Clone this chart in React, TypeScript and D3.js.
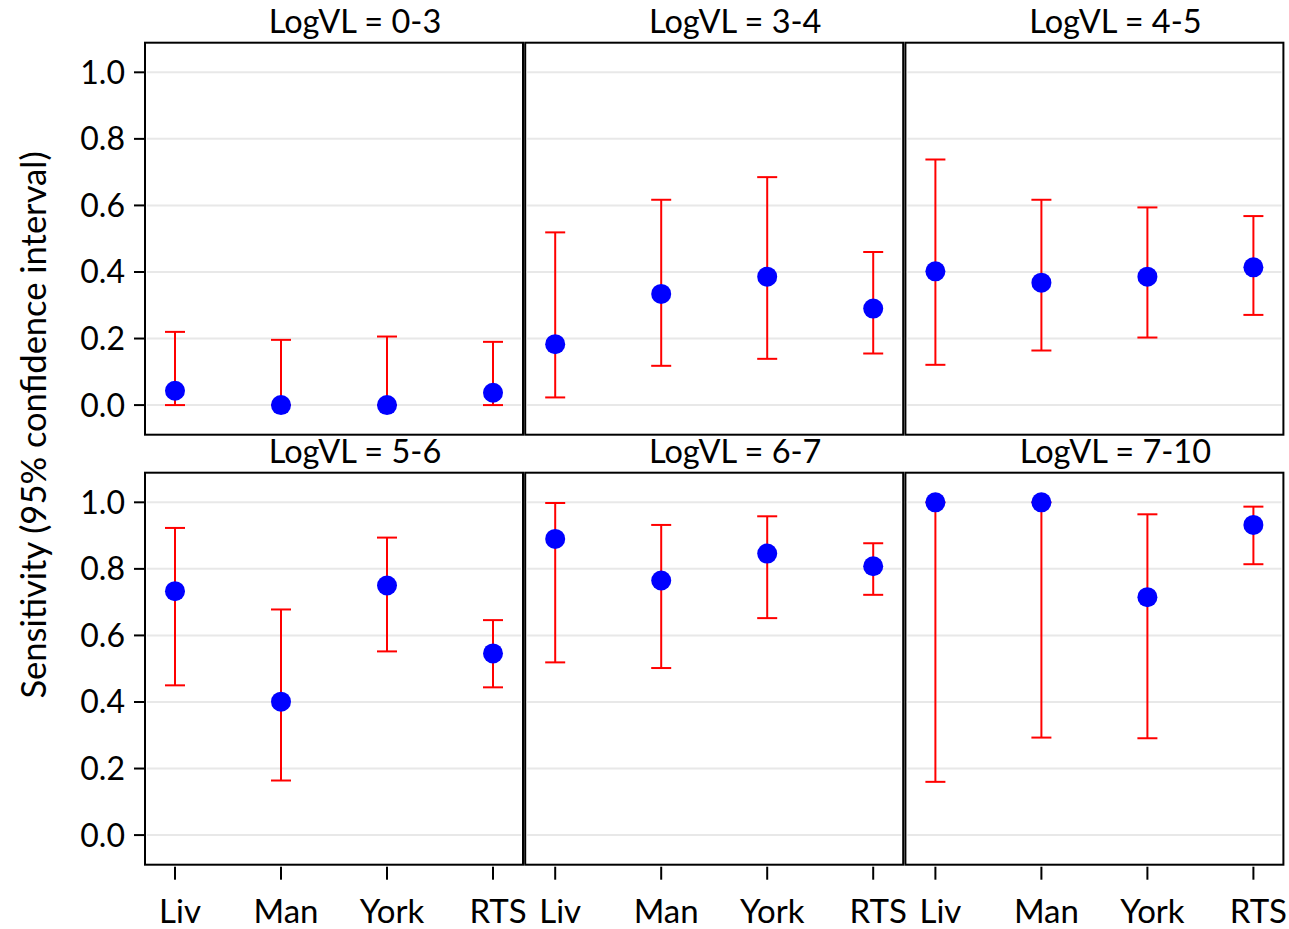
import React from "react";
import * as d3 from "d3";

const sites = ["Liv", "Man", "York", "RTS"];
const groups = ["LogVL = 0-3", "LogVL = 3-4", "LogVL = 4-5", "LogVL = 5-6", "LogVL = 6-7", "LogVL = 7-10"];
const estimate = [
  [0.043, 0.0, 0.0, 0.037],
  [0.183, 0.334, 0.386, 0.29],
  [0.402, 0.368, 0.386, 0.414],
  [0.733, 0.401, 0.75, 0.546],
  [0.89, 0.765, 0.846, 0.808],
  [1.0, 1.0, 0.715, 0.932],
];
const lower = [
  [0.0, 0.0, 0.0, 0.0],
  [0.023, 0.118, 0.139, 0.155],
  [0.121, 0.164, 0.203, 0.271],
  [0.45, 0.164, 0.552, 0.444],
  [0.519, 0.502, 0.652, 0.722],
  [0.16, 0.293, 0.291, 0.814],
];
const upper = [
  [0.22, 0.196, 0.206, 0.19],
  [0.519, 0.617, 0.685, 0.46],
  [0.738, 0.617, 0.594, 0.568],
  [0.923, 0.678, 0.894, 0.646],
  [0.998, 0.932, 0.958, 0.877],
  [1.0, 1.0, 0.964, 0.987],
];
const yTicks = [0, 0.2, 0.4, 0.6, 0.8, 1.0];
const yTitle = "Sensitivity (95% confidence interval)";

const FONT = "Lato, 'Open Sans', sans-serif";
const W = 1289;
const H = 929;
const left0 = 145;
const top0 = 42.7;
const colPitch = 380.2;
const rowPitch = 430;
const panelW = 378;
const panelH = 392;

export default function App() {
  const x = d3.scalePoint<string>().domain(sites).range([0, panelW]).padding(0.283);
  const y = d3.scaleLinear().domain([-0.089, 1.089]).range([panelH, 0]);
  const fmt = d3.format(".1f");

  return (
    <svg width={W} height={H} style={{ position: "absolute", left: 0, top: 0, background: "#fff" }} fontFamily={FONT}>
      <rect width={W} height={H} fill="#fff" />
      <text
        transform={`translate(46,425) rotate(-90)`}
        textAnchor="middle"
        fontSize={34.5}
        fill="#000"
      >
        {yTitle}
      </text>
      {groups.map((g, gi) => {
        const col = gi % 3;
        const row = Math.floor(gi / 3);
        const px = left0 + col * colPitch;
        const py = top0 + row * rowPitch;
        return (
          <g key={g} transform={`translate(${px},${py})`}>
            {yTicks.map((t) => (
              <line key={t} x1={2} x2={panelW - 2} y1={y(t)} y2={y(t)} stroke="#e8e8e8" strokeWidth={2} />
            ))}
            <rect x={0} y={0} width={panelW} height={panelH} fill="none" stroke="#000" strokeWidth={2} />
            <text x={panelW / 2 + 21} y={-10} textAnchor="middle" fontSize={32.5} fill="#000">
              {g}
            </text>
            {col === 0 &&
              yTicks.map((t) => (
                <g key={t}>
                  <line x1={-11} x2={0} y1={y(t)} y2={y(t)} stroke="#000" strokeWidth={2} />
                  <text x={-20} y={y(t)} dy="0.36em" textAnchor="end" fontSize={32} fill="#000">
                    {fmt(t)}
                  </text>
                </g>
              ))}
            {row === 1 &&
              sites.map((s) => (
                <g key={s}>
                  <line x1={x(s)} x2={x(s)} y1={panelH + 2} y2={panelH + 15} stroke="#000" strokeWidth={2} />
                  <text x={(x(s) as number) + 5} y={panelH + 58} textAnchor="middle" fontSize={33} fill="#000">
                    {s}
                  </text>
                </g>
              ))}
            {sites.map((s, si) => {
              const cx = x(s) as number;
              return (
                <g key={s}>
                  <line x1={cx} x2={cx} y1={y(lower[gi][si])} y2={y(upper[gi][si])} stroke="#ff0000" strokeWidth={2} />
                  <line x1={cx - 10} x2={cx + 10} y1={y(lower[gi][si])} y2={y(lower[gi][si])} stroke="#ff0000" strokeWidth={2} />
                  <line x1={cx - 10} x2={cx + 10} y1={y(upper[gi][si])} y2={y(upper[gi][si])} stroke="#ff0000" strokeWidth={2} />
                  <circle cx={cx} cy={y(estimate[gi][si])} r={10} fill="#0000ff" />
                </g>
              );
            })}
          </g>
        );
      })}
    </svg>
  );
}
